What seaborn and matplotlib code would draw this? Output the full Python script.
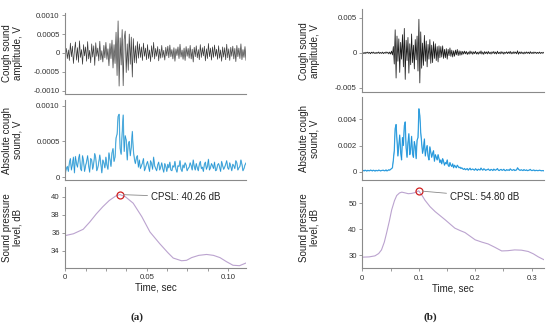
import numpy as np
import pandas as pd
import matplotlib
matplotlib.use("Agg")
import matplotlib.pyplot as plt
from matplotlib.ticker import MultipleLocator
import seaborn as sns

# (a) cough sound amplitude, units of 1e-4 V, over 0..0.111 s
amp_a = np.array([
    -0.5, 1.2, -1.5, 0.8, -2.0, 2.6, -1.0, 1.8, -2.8, 0.6,
    2.9, -1.9, 1.4, -2.5, 3.2, -1.2, 0.9, -3.0, 2.2, -0.8,
    1.6, -2.2, 3.0, -1.6, 0.7, -2.6, 2.4, -1.1, 1.9, -3.3,
    2.7, -0.9, 1.3, -2.1, 3.1, -1.8, 0.6, -2.4, 2.0, -1.3,
    2.8, -1.7, 1.1, -3.4, 2.5,
    -1.5, 3.4, -4.0, 2.2, -2.8, 5.5, -6.0, 8.5, -8.8, 4.0,
    -3.2, 6.2, -8.7, 3.6, 5.8, -5.2, 2.4, -4.6, 5.0, -3.0,
    4.2, -6.4, 3.8, -2.6,
    1.9, -2.7, 3.0, -1.4, 2.4, -1.2, 1.6, -2.0, 2.6, -0.9,
    1.3, -1.8, 2.2, -1.5, 0.8, -2.3, 1.9, -1.1, 2.8, -1.6,
    1.2, -0.9, 1.7, -2.1, 1.0, -1.4, 2.0, -1.2, 0.7, -1.9,
    1.5, -0.8, 1.8, -1.3, 2.1, -1.0, 0.9, -1.6, 1.4, -2.2,
    1.1, -0.7, 1.6, -1.5, 2.3, -1.1, 0.8, -1.7, 1.3, -2.0,
    1.7, -0.9, 1.2, -1.4, 2.0, -1.6, 1.0, -2.4, 1.5, -1.0,
    1.9, -1.3, 0.9, -1.8, 2.2, -1.2, 1.4, -0.8, 1.8, -2.1,
    1.1, -1.5, 2.5, -1.0, 1.3, -1.9, 1.6, -1.2, 2.1, -0.9,
    1.0, -1.7, 1.9, -1.4, 0.8, -2.2, 1.6, -1.1, 1.4, -1.8,
    2.3, -1.3, 1.1, -2.0, 1.5, -0.9, 1.8, -1.6, 1.2, -2.3,
    2.0, -1.0, 1.3, -1.5, 2.4, -1.8, 0.9, -1.2, 1.7, -2.0,
]) * 1e-4
dur_a = 0.111

# (b) cough sound amplitude, units of 1e-3 V, over 0..0.322 s
amp_b = np.array([
    0.08, -0.10, 0.06, -0.12, 0.09, -0.05, 0.11, -0.08, 0.07, -0.13,
    0.10, -0.06, 0.12, -0.09, 0.05, -0.11, 0.08, -0.07, 0.13, -0.10,
    0.06, -0.09, 0.11, -0.12, 0.07, -0.08, 0.14, -0.06, 0.10, -0.15,
    0.12, -0.18, 0.25, -0.30,
    0.9, -1.6, 3.3, -3.6, 2.4, -1.2, 2.0, -2.8, 1.5, -0.9,
    2.6, -2.0, 3.5, -3.8, 1.8, -1.1, 2.2, -2.9, 1.3, -1.7,
    2.7, -1.4, 1.1, -2.3, 1.9, -1.0, 2.4, -2.6, 4.8, -4.3,
    3.0, -2.2, 1.4, -1.8, 2.5, -1.2, 1.7, -2.0, 1.2, -0.9,
    1.9, -1.5, 1.1, -1.4, 1.6, -0.8, 1.3, -1.1, 0.9, -1.3, 1.0,
    -0.7, 0.9, -0.6, 1.0, -0.8, 0.5, -0.7, 0.6, -0.9, 0.5,
    -0.4, 0.7, -0.5, 0.4, -0.6, 0.3, -0.5, 0.4, -0.3, 0.5,
    -0.4, 0.3, -0.35, 0.25, -0.3,
    0.22, -0.18, 0.25, -0.15, 0.20, -0.24, 0.12, -0.19, 0.27, -0.14,
    0.18, -0.21, 0.15, -0.12, 0.23, -0.17, 0.10, -0.20, 0.16, -0.13,
    0.28, -0.18, 0.12, -0.22, 0.19, -0.11, 0.14, -0.16, 0.21, -0.13,
    0.10, -0.18, 0.15, -0.09, 0.20, -0.14, 0.12, -0.17, 0.24, -0.12,
    0.09, -0.15, 0.18, -0.11, 0.13, -0.19, 0.10, -0.08, 0.16, -0.12,
    0.14, -0.10, 0.22, -0.15, 0.11, -0.13, 0.17, -0.09, 0.12, -0.14,
    0.30, -0.20, 0.13, -0.11, 0.15, -0.12, 0.09, -0.16, 0.12, -0.10,
    0.14, -0.08, 0.11, -0.13, 0.18, -0.10, 0.09, -0.12, 0.13, -0.07,
    0.10, -0.11, 0.08, -0.09, 0.12, -0.10, 0.07, -0.08, 0.09, -0.06,
]) * 1e-3
dur_b = 0.322

# sound pressure level curves
spl_t_a = [0.0, 0.005, 0.011, 0.015, 0.019, 0.023, 0.027, 0.031, 0.0335,
           0.037, 0.0417, 0.047, 0.052, 0.058, 0.063, 0.0663, 0.0714,
           0.0745, 0.0776, 0.082, 0.0868, 0.091, 0.095, 0.099, 0.103,
           0.107, 0.111]
spl_a = [35.7, 35.9, 36.4, 37.2, 38.1, 38.9, 39.6, 40.1, 40.26,
         40.0, 39.3, 37.8, 36.1, 34.8, 33.8, 33.2, 32.9,
         32.95, 33.25, 33.5, 33.6, 33.5, 33.25, 32.8, 32.4,
         32.35, 32.65]
spl_t_b = [0.0, 0.012, 0.0224, 0.029, 0.034, 0.039, 0.043, 0.048, 0.052,
           0.057, 0.061, 0.066, 0.07, 0.076, 0.0814, 0.087, 0.093, 0.1,
           0.106, 0.111, 0.12, 0.129, 0.138, 0.147, 0.156, 0.164, 0.173,
           0.182, 0.191, 0.2, 0.212, 0.223, 0.235, 0.247, 0.258, 0.27,
           0.282, 0.294, 0.303, 0.312, 0.322]
spl_b = [29.2, 29.3, 29.7, 30.6, 32.0, 35.0, 38.5, 43.2, 47.4,
         51.0, 53.0, 54.0, 54.3, 54.0, 53.7, 53.8, 54.1, 54.8,
         53.0, 51.2, 48.7, 46.8, 45.2, 43.6, 41.9, 40.4, 39.5,
         38.7, 37.3, 35.9, 35.0, 34.3, 33.0, 31.6, 31.7, 32.0,
         31.9, 31.4, 30.5, 29.3, 28.2]
cpsl_a = (0.0335, 40.26)
cpsl_b = (0.1, 54.80)

sns.set_theme(style="white")
plt.rcParams['font.family'] = ['Liberation Sans', 'DejaVu Sans']

fig = plt.figure(figsize=(5.5, 3.31), dpi=100)
W, H = 550.0, 331.0


def box(x0, x1, ytop, ybot):
    return [x0 / W, 1 - ybot / H, (x1 - x0) / W, (ybot - ytop) / H]


ax_a1 = fig.add_axes(box(65.3, 246, 13, 94))
ax_a2 = fig.add_axes(box(65.3, 246, 100, 180))
ax_a3 = fig.add_axes(box(65.3, 246, 187, 267.5))
ax_b1 = fig.add_axes(box(362.3, 544, 9.5, 92))
ax_b2 = fig.add_axes(box(362.3, 544, 97, 180))
ax_b3 = fig.add_axes(box(362.3, 544, 186.7, 268.3))

t_a = np.linspace(0, dur_a, len(amp_a))
t_b = np.linspace(0, dur_b, len(amp_b))

sns.lineplot(x=t_a, y=amp_a, ax=ax_a1, color='#3a3a3a', lw=0.5, estimator=None, sort=False)
sns.lineplot(x=t_b, y=amp_b, ax=ax_b1, color='#1a1a1a', lw=0.55, estimator=None, sort=False)

for ax, t, a, lc in [(ax_a2, t_a, amp_a, '#86cbe3'), (ax_b2, t_b, amp_b, '#4fb3e6')]:
    sns.lineplot(x=t, y=np.abs(a), ax=ax, color=lc, lw=0.9, estimator=None, sort=False)
    sns.lineplot(x=t, y=np.abs(a), ax=ax, color='#1488d6', lw=0.35, estimator=None, sort=False)

sns.lineplot(x=spl_t_a, y=spl_a, ax=ax_a3, color='#bba3cf', lw=0.8, estimator=None, sort=False)
sns.lineplot(x=spl_t_b, y=spl_b, ax=ax_b3, color='#bba3cf', lw=0.8, estimator=None, sort=False)

for ax, pk, txt in [(ax_a3, cpsl_a, (0.0525, 40.0)), (ax_b3, cpsl_b, (0.155, 52.6))]:
    ax.plot(*pk, 'o', mfc='none', mec='#d02020', ms=5, mew=0.9)
    ax.annotate(f"CPSL: {pk[1]:.2f} dB", xy=pk, xytext=txt, fontsize=7,
                color='#222222', ha='left', va='center',
                arrowprops=dict(arrowstyle='-', color='#888888', lw=0.6,
                                shrinkA=0, shrinkB=2.5))

# limits and ticks
for ax in [ax_a1, ax_a2, ax_a3]:
    ax.set_xlim(0, dur_a)
for ax in [ax_b1, ax_b2, ax_b3]:
    ax.set_xlim(0, dur_b)

ax_a1.set_ylim(-0.00109, 0.00106)
ax_a1.set_yticks([-0.001, -0.0005, 0, 0.0005, 0.001],
                 ['-0.0010', '-0.0005', '0', '0.0005', '0.0010'])
ax_a2.set_ylim(-0.00004, 0.00108)
ax_a2.set_yticks([0, 0.0005, 0.001], ['0', '0.0005', '0.0010'])
ax_a3.set_ylim(32.15, 41.1)
ax_a3.set_yticks([34, 36, 38, 40], ['34', '36', '38', '40'])
ax_a3.set_xticks([0, 0.05, 0.10], ['0', '0.05', '0.10'])
ax_a3.xaxis.set_minor_locator(MultipleLocator(0.0125))

ax_b1.set_ylim(-0.0056, 0.0062)
ax_b1.set_yticks([-0.005, 0, 0.005], ['-0.005', '0', '0.005'])
ax_b2.set_ylim(-0.00063, 0.0057)
ax_b2.set_yticks([0, 0.002, 0.004], ['0', '0.002', '0.004'])
ax_b3.set_ylim(24.9, 56.4)
ax_b3.set_yticks([30, 40, 50], ['30', '40', '50'])
ax_b3.set_xticks([0, 0.1, 0.2, 0.3], ['0', '0.1', '0.2', '0.3'])
ax_b3.xaxis.set_minor_locator(MultipleLocator(0.05))

ylabels = [(ax_a1, "Cough sound\namplitude, V"), (ax_a2, "Absolute cough\nsound, V"),
           (ax_a3, "Sound pressure\nlevel, dB"), (ax_b1, "Cough sound\namplitude, V"),
           (ax_b2, "Absolute cough\nsound, V"), (ax_b3, "Sound pressure\nlevel, dB")]
for ax, lab in ylabels:
    ax.set_ylabel(lab, fontsize=7, color='#222222', linespacing=1.05)
    ax.yaxis.set_label_coords(-0.235, 0.5)
    for s in ['top', 'right']:
        ax.spines[s].set_visible(False)
    for s in ['left', 'bottom']:
        ax.spines[s].set_color('#8a8a8a')
        ax.spines[s].set_linewidth(0.8)
    ax.tick_params(axis='y', labelsize=5.6, colors='#8a8a8a', labelcolor='#333333',
                   length=2, width=0.6, pad=2, left=True)
    ax.tick_params(axis='x', which='both', labelsize=5.6, colors='#8a8a8a',
                   labelcolor='#333333', length=2, width=0.6, pad=3, bottom=True)

for ax in [ax_a1, ax_a2, ax_b1, ax_b2]:
    ax.set_xticks([])
    ax.tick_params(axis='x', bottom=False, labelbottom=False)

for ax in [ax_a3, ax_b3]:
    ax.set_xlabel("Time, sec", fontsize=7, color='#222222', labelpad=1)

fig.text(137 / W, 1 - 317 / H, "(a)", fontsize=8, fontweight='bold',
         family=['Liberation Serif', 'DejaVu Serif'], ha='center', va='center')
fig.text(430 / W, 1 - 317 / H, "(b)", fontsize=8, fontweight='bold',
         family=['Liberation Serif', 'DejaVu Serif'], ha='center', va='center')

fig.savefig("out.png", dpi=100)
